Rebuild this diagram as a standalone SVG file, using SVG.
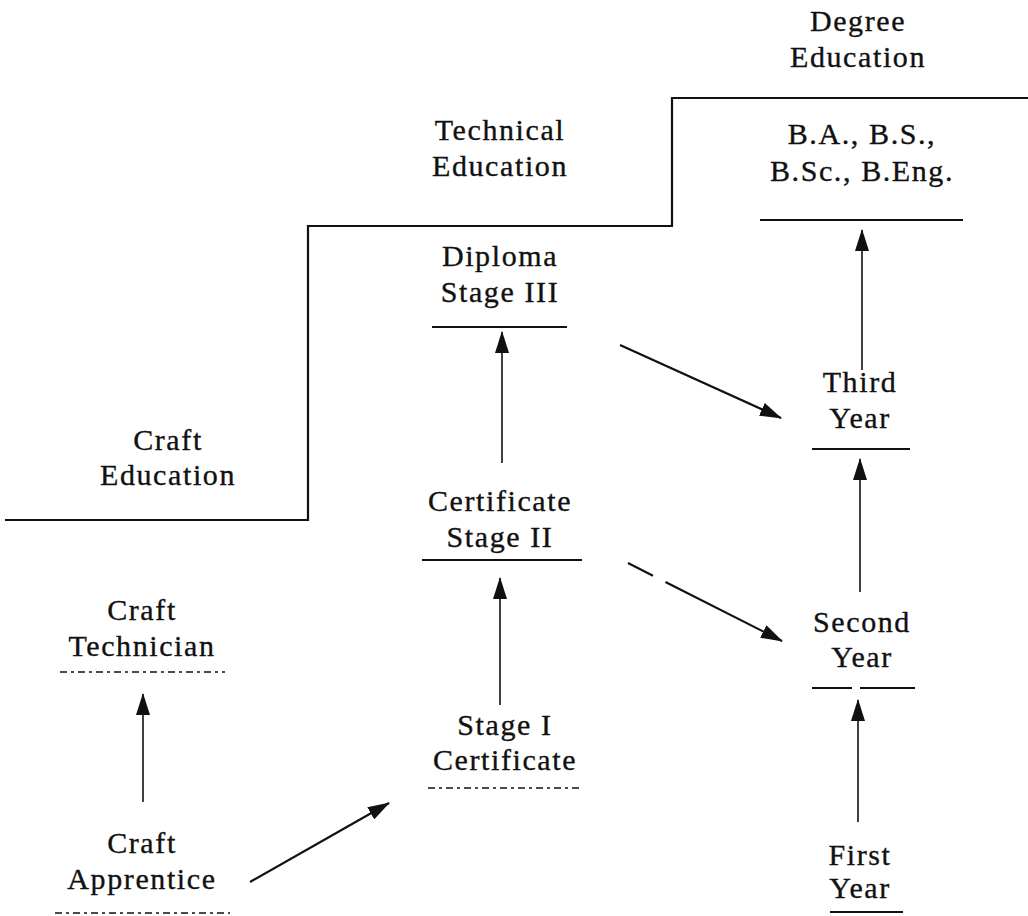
<svg xmlns="http://www.w3.org/2000/svg" width="1028" height="916" viewBox="0 0 1028 916">
<style>
text{font-family:"Liberation Serif","Times New Roman",serif;font-size:30px;fill:#111;stroke:#111;stroke-width:0.35;text-anchor:middle;letter-spacing:1.6px}
.ul{stroke:#111;stroke-width:2;fill:none}
.faint{stroke-dasharray:7 4 3 4;stroke-width:1.4}
.step{stroke:#111;stroke-width:2.2;fill:none}
.arr{stroke:#111;stroke-width:1.6;fill:none;marker-end:url(#ah)}
.arrd{stroke:#111;stroke-width:2.2;fill:none;marker-end:url(#ah)}
</style>
<defs>
<marker id="ah" viewBox="0 0 22 14" refX="21" refY="7" markerWidth="22" markerHeight="14" markerUnits="userSpaceOnUse" orient="auto">
<path d="M0,0 L22,7 L0,14 Z" fill="#111"/>
</marker>
</defs>
<rect width="1028" height="916" fill="#fff"/>
<g id="levels">
<path class="step" d="M5,520 H308 V226 H672 V98 H1028"/>
<text x="858" y="31">Degree</text><text x="858" y="67">Education</text>
<text x="500" y="140">Technical</text><text x="500" y="176">Education</text>
<text x="168" y="450">Craft</text><text x="168" y="485">Education</text>
</g>
<g id="ba"><text x="862" y="144">B.A., B.S.,</text><text x="862" y="181">B.Sc., B.Eng.</text><line class="ul" x1="760" y1="220" x2="963" y2="220"/></g>
<g id="diploma"><text x="500" y="266">Diploma</text><text x="500" y="302">Stage III</text><line class="ul" x1="432" y1="327" x2="567" y2="327"/></g>
<g id="third"><text x="860" y="392">Third</text><text x="860" y="428">Year</text><line class="ul" x1="812" y1="449" x2="910" y2="449"/></g>
<g id="cert2"><text x="500" y="511">Certificate</text><text x="500" y="547">Stage II</text><line class="ul" x1="422" y1="560" x2="582" y2="560"/></g>
<g id="crafttech"><text x="142" y="620">Craft</text><text x="142" y="656">Technician</text><line class="ul faint" x1="60" y1="672" x2="225" y2="672"/></g>
<g id="second"><text x="862" y="632">Second</text><text x="862" y="667">Year</text><line class="ul" x1="812" y1="688" x2="915" y2="688" stroke-dasharray="40 8 60"/></g>
<g id="stage1"><text x="505" y="735">Stage I</text><text x="505" y="770">Certificate</text><line class="ul faint" x1="428" y1="788" x2="583" y2="788"/></g>
<g id="apprentice"><text x="142" y="853">Craft</text><text x="142" y="889">Apprentice</text><line class="ul faint" x1="55" y1="913" x2="230" y2="913"/></g>
<g id="first"><text x="860" y="865">First</text><text x="860" y="898">Year</text><line class="ul" x1="830" y1="912" x2="903" y2="912"/></g>
<g id="connectors">
<line class="arr" x1="143" y1="802" x2="143" y2="694"/>
<line class="arr" x1="500" y1="705" x2="500" y2="578"/>
<line class="arr" x1="502" y1="463" x2="502" y2="332"/>
<line class="arr" x1="858" y1="822" x2="858" y2="700"/>
<line class="arr" x1="860" y1="592" x2="860" y2="459"/>
<line class="arr" x1="862" y1="370" x2="862" y2="230"/>
<line class="arrd" x1="250" y1="882" x2="389" y2="803"/>
<line class="arrd" x1="620" y1="345" x2="781" y2="418"/>
<line class="arrd" x1="628" y1="563" x2="782" y2="641" stroke-dasharray="28 14 200"/>
</g>
</svg>
